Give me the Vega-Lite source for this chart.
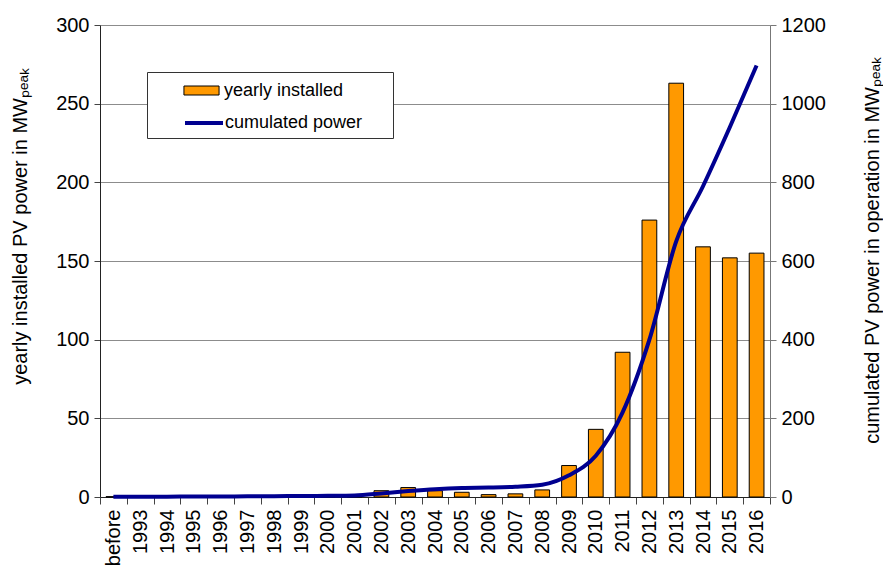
{
  "$schema": "https://vega.github.io/schema/vega-lite/v6.json",
  "autosize": {"type": "none"},
  "width": 670,
  "height": 472,
  "padding": {"left": 100, "top": 25, "right": 113, "bottom": 70},
  "background": "white",
  "config": {
    "font": "Liberation Sans",
    "view": {"stroke": null},
    "axis": {"labelFont": "Liberation Sans", "titleFont": "Liberation Sans", "labelColor": "black", "titleColor": "black", "titleFontWeight": "normal"},
    "legend": {"labelFont": "Liberation Sans", "labelColor": "black", "labelFontSize": 18}
  },
  "data": {
    "values": [
      {"year": "before", "yearly": 0.2, "cumulated": 0.5},
      {"year": "1993", "yearly": 0.1, "cumulated": 0.7},
      {"year": "1994", "yearly": 0.1, "cumulated": 0.9},
      {"year": "1995", "yearly": 0.1, "cumulated": 1.1},
      {"year": "1996", "yearly": 0.1, "cumulated": 1.3},
      {"year": "1997", "yearly": 0.2, "cumulated": 1.6},
      {"year": "1998", "yearly": 0.2, "cumulated": 2},
      {"year": "1999", "yearly": 0.3, "cumulated": 2.5},
      {"year": "2000", "yearly": 0.5, "cumulated": 3},
      {"year": "2001", "yearly": 1.0, "cumulated": 4},
      {"year": "2002", "yearly": 4, "cumulated": 9},
      {"year": "2003", "yearly": 6, "cumulated": 15},
      {"year": "2004", "yearly": 4, "cumulated": 20},
      {"year": "2005", "yearly": 3, "cumulated": 23},
      {"year": "2006", "yearly": 1.5, "cumulated": 24},
      {"year": "2007", "yearly": 2, "cumulated": 26},
      {"year": "2008", "yearly": 4.5, "cumulated": 31},
      {"year": "2009", "yearly": 20, "cumulated": 55},
      {"year": "2010", "yearly": 43, "cumulated": 105},
      {"year": "2011", "yearly": 92, "cumulated": 215},
      {"year": "2012", "yearly": 176, "cumulated": 400},
      {"year": "2013", "yearly": 263, "cumulated": 650},
      {"year": "2014", "yearly": 159, "cumulated": 790},
      {"year": "2015", "yearly": 152, "cumulated": 940},
      {"year": "2016", "yearly": 155, "cumulated": 1097}
    ]
  },
  "encoding": {
    "x": {
      "field": "year",
      "type": "nominal",
      "sort": null,
      "scale": {"paddingInner": 0, "paddingOuter": 0},
      "axis": {
        "title": null,
        "labelAngle": -90,
        "labelFontSize": 20,
        "labelPadding": 5,
        "tickBand": "extent",
        "tickSize": 7,
        "tickColor": "#444",
        "domainColor": "#222",
        "labelBaseline": "middle"
      }
    }
  },
  "layer": [
    {
      "mark": {"type": "bar", "width": {"band": 0.55}, "stroke": "black", "strokeWidth": 1},
      "encoding": {
        "y": {
          "field": "yearly",
          "type": "quantitative",
          "scale": {"domain": [0, 300], "nice": false},
          "axis": {
            "orient": "left",
            "values": [0, 50, 100, 150, 200, 250, 300],
            "grid": true,
            "gridColor": "#8c8c8c",
            "gridWidth": 1,
            "domainColor": "#222",
            "tickColor": "#444",
            "tickSize": 6,
            "labelFontSize": 20,
            "labelPadding": 5,
            "title": "yearly installed PV power in MWₚₑₐₖ",
            "titleFontSize": 20,
            "titleAngle": -90,
            "titleX": -80,
            "titleY": 201,
            "titleAlign": "center",
            "titleBaseline": "middle"
          }
        },
        "fill": {
          "datum": "yearly installed",
          "type": "nominal",
          "scale": {"domain": ["yearly installed"], "range": ["#FF9900"]},
          "legend": {
            "orient": "none",
            "legendX": 47,
            "legendY": 47,
            "title": "\u200b\u2003\u2003\u2003\u2003\u2003\u2003\u2003\u2003\u2003\u2003\u2003\u2003\u200b",
            "titleOrient": "bottom",
            "titleFontSize": 20,
            "titlePadding": 15,
            "titleLimit": 400,
            "strokeColor": "#333",
            "fillColor": "white",
            "padding": 3,
            "symbolType": "M-1.17,-0.3H1.17V0.3H-1.17Z",
            "symbolSize": 900,
            "symbolStrokeColor": "black",
            "symbolStrokeWidth": 1,
            "symbolOpacity": 1,
            "symbolOffset": 36,
            "labelOffset": 7
          }
        }
      }
    },
    {
      "mark": {"type": "line", "strokeWidth": 4, "interpolate": "monotone"},
      "encoding": {
        "y": {
          "field": "cumulated",
          "type": "quantitative",
          "scale": {"domain": [0, 1200], "nice": false},
          "axis": {
            "orient": "right",
            "values": [0, 200, 400, 600, 800, 1000, 1200],
            "format": "d",
            "grid": false,
            "domainColor": "#777",
            "tickColor": "#777",
            "tickSize": 6,
            "labelFontSize": 20,
            "labelPadding": 5,
            "title": "cumulated PV power in operation in MWₚₑₐₖ",
            "titleFontSize": 20,
            "titleAngle": -90,
            "titleX": 102,
            "titleY": 225,
            "titleAlign": "center",
            "titleBaseline": "middle"
          }
        },
        "stroke": {
          "datum": "cumulated power",
          "type": "nominal",
          "scale": {"domain": ["cumulated power"], "range": ["#000090"]},
          "legend": {
            "orient": "none",
            "legendX": 47,
            "legendY": 77,
            "title": null,
            "padding": 0,
            "symbolType": "stroke",
            "symbolSize": 1444,
            "symbolStrokeWidth": 4,
            "symbolOpacity": 1,
            "symbolOffset": 36,
            "labelOffset": 0
          }
        }
      }
    }
  ],
  "resolve": {"scale": {"y": "independent"}}
}
